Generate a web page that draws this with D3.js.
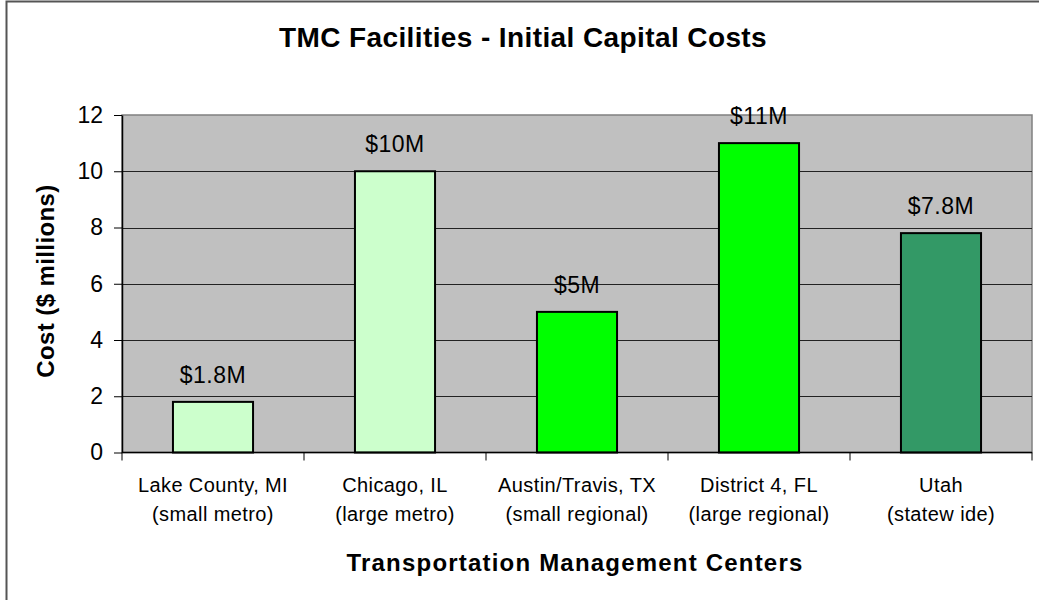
<!DOCTYPE html>
<html lang="en">
    <head>
        <meta charset="utf-8">
        <title>TMC Facilities - Initial Capital Costs</title>
        <script src="https://d3js.org/d3.v7.min.js"></script>
        <style>
            body {
                margin: 0;
                background: white;
            }
            text {
                font-family: "Liberation Sans", Arial, sans-serif;
                fill: black;
            }
            .axis path,
            .axis line {
                fill: none;
                stroke: black;
            }
        </style>
    </head>
    <body>
        <div id="chart"></div>
        <script type="text/javascript">
            // data
            var centers = ["Lake County, MI", "Chicago, IL", "Austin/Travis, TX", "District 4, FL", "Utah"];
            var centerTypes = ["(small metro)", "(large metro)", "(small regional)", "(large regional)", "(statew ide)"];
            var costs = [1.8, 10, 5, 11, 7.8];
            var costLabels = ["$1.8M", "$10M", "$5M", "$11M", "$7.8M"];
            var barColors = ["#CCFFCC", "#CCFFCC", "#00FF00", "#00FF00", "#339966"];
            var yTicks = [0, 2, 4, 6, 8, 10, 12];

            // settings for window
            var w = 1039;
            var h = 600;
            var plotLeft = 122, plotRight = 1032, plotTop = 115, plotBottom = 452.5;

            var svg = d3.select("#chart").append("svg").attr("width", w).attr("height", h);

            // outer frame
            svg.append("rect").attr("x", 6.5).attr("y", 1.5).attr("width", w + 10).attr("height", h + 10)
                .attr("fill", "white").attr("stroke", "#555").attr("stroke-width", 2);

            // scales
            var xScale = d3.scaleBand().domain(centers).range([plotLeft, plotRight]).paddingInner(0.56).paddingOuter(0.28);
            var yScale = d3.scaleLinear().domain([0, 12]).range([plotBottom, plotTop]);

            // plot area
            svg.append("rect").attr("x", plotLeft).attr("y", plotTop).attr("width", plotRight - plotLeft).attr("height", plotBottom - plotTop)
                .attr("fill", "#C0C0C0").attr("stroke", "#808080").attr("stroke-width", 1.5);

            // gridlines
            svg.append("g").selectAll("line").data(yTicks.filter(function(d) { return d > 0 && d < 12; })).enter()
                .append("line")
                .attr("x1", plotLeft).attr("x2", plotRight)
                .attr("y1", function(d) { return Math.round(yScale(d)) + 0.5; })
                .attr("y2", function(d) { return Math.round(yScale(d)) + 0.5; })
                .attr("stroke", "#222").attr("stroke-width", 1.2);

            // bars
            svg.append("g").selectAll("rect").data(costs).enter()
                .append("rect")
                .attr("x", function(d, i) { return xScale(centers[i]); })
                .attr("y", function(d) { return yScale(d); })
                .attr("width", xScale.bandwidth())
                .attr("height", function(d) { return yScale(0) - yScale(d); })
                .attr("fill", function(d, i) { return barColors[i]; })
                .attr("stroke", "black").attr("stroke-width", 2);

            // value labels
            svg.append("g").selectAll("text").data(costs).enter()
                .append("text")
                .attr("x", function(d, i) { return xScale(centers[i]) + xScale.bandwidth() / 2; })
                .attr("y", function(d) { return yScale(d) - 19; })
                .attr("text-anchor", "middle")
                .style("font-size", "23px").style("letter-spacing", "0.5px")
                .text(function(d, i) { return costLabels[i]; });

            // y axis
            var yAxis = d3.axisLeft(yScale).tickValues(yTicks).tickSize(8).tickPadding(11).tickSizeOuter(0);
            var yg = svg.append("g").attr("class", "axis").attr("transform", "translate(" + plotLeft + ",0)").call(yAxis);
            yg.selectAll("text").style("font-size", "23px").attr("font-family", null);
            yg.select(".domain").attr("stroke-width", 1.5);

            // x axis: ticks at category boundaries
            var step = xScale.step();
            var xg = svg.append("g").attr("class", "axis");
            xg.append("line").attr("x1", plotLeft).attr("x2", plotRight).attr("y1", plotBottom).attr("y2", plotBottom).attr("stroke-width", 1.5);
            xg.selectAll("line.tick").data(d3.range(centers.length + 1)).enter()
                .append("line").attr("class", "tick")
                .attr("x1", function(i) { return plotLeft + i * step; })
                .attr("x2", function(i) { return plotLeft + i * step; })
                .attr("y1", plotBottom).attr("y2", plotBottom + 8);

            var labels = svg.append("g").selectAll("text").data(centers).enter()
                .append("text")
                .attr("text-anchor", "middle")
                .style("font-size", "20px").style("letter-spacing", "0.4px")
                .attr("transform", function(d) { return "translate(" + (xScale(d) + xScale.bandwidth() / 2) + ",492)"; });
            labels.append("tspan").attr("x", 0).attr("y", 0).text(function(d) { return d; });
            labels.append("tspan").attr("x", 0).attr("y", 28.5).text(function(d, i) { return centerTypes[i]; });

            // titles
            svg.append("text").attr("x", 523).attr("y", 47).attr("text-anchor", "middle")
                .style("font-size", "28px").style("font-weight", "bold").style("letter-spacing", "0.4px")
                .text("TMC Facilities - Initial Capital Costs");

            svg.append("text").attr("x", 575).attr("y", 571).attr("text-anchor", "middle")
                .style("font-size", "24px").style("font-weight", "bold").style("letter-spacing", "1.2px")
                .text("Transportation Management Centers");

            svg.append("text").attr("transform", "translate(54,281) rotate(-90)").attr("text-anchor", "middle")
                .style("font-size", "24px").style("font-weight", "bold").style("letter-spacing", "0.4px")
                .text("Cost ($ millions)");
        </script>
    </body>
</html>
